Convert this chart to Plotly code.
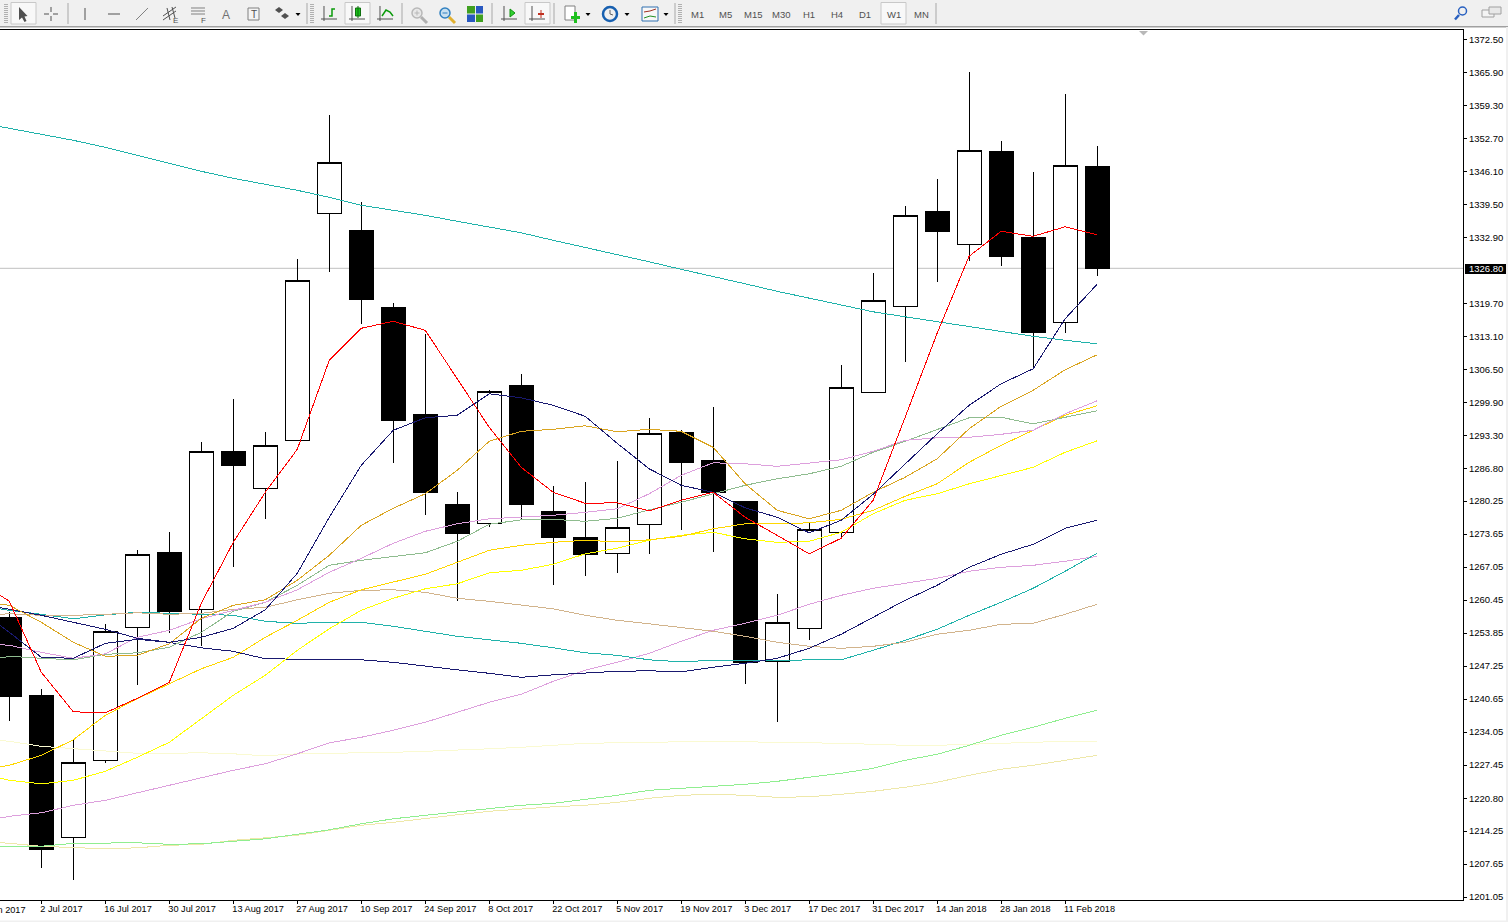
import pandas as pd
import plotly.graph_objects as go

first_candle = "2017-06-25"
open_ = [1257.0,1241.4,1212.9,1228.3,1254.9,1270.0,1258.5,1290.2,1282.7,1292.3,1337.7,1334.4,1319.0,1297.6,1279.6,1275.8,1303.4,1278.2,1273.0,1269.7,1275.5,1294.0,1288.4,1280.2,1248.1,1254.8,1274.0,1302.0,1319.1,1338.2,1331.5,1350.2,1333.0,1315.9,1347.2]
high = [1258.0,1242.6,1232.4,1255.6,1270.4,1274.0,1292.0,1300.6,1294.0,1328.6,1357.4,1340.0,1319.8,1313.6,1282.0,1302.4,1305.7,1283.3,1284.0,1288.2,1296.8,1294.5,1299.0,1280.2,1261.6,1275.8,1307.4,1325.8,1339.2,1344.6,1366.0,1352.2,1346.0,1361.6,1351.2]
low = [1236.2,1206.8,1204.4,1227.8,1243.4,1253.8,1251.2,1267.0,1276.6,1292.2,1326.0,1315.6,1287.8,1277.4,1260.2,1275.0,1276.5,1263.4,1265.2,1265.8,1269.6,1274.4,1270.0,1243.6,1236.0,1252.4,1272.9,1302.0,1308.0,1324.0,1328.2,1327.2,1306.8,1313.9,1325.2]
close = [1241.2,1210.6,1227.9,1254.1,1269.6,1258.2,1290.1,1287.4,1291.4,1324.4,1348.0,1320.6,1296.4,1282.0,1273.8,1302.1,1279.6,1273.0,1269.6,1274.9,1293.7,1288.0,1282.0,1248.0,1255.9,1274.5,1302.9,1320.3,1337.3,1334.2,1350.4,1329.2,1314.0,1347.3,1326.8]

# Moving averages start one week earlier (18 Jun 2017)
ma_pale = [1232.8,1232.2,1231.2,1230.7,1230.2,1229.8,1229.8,1229.9,1229.7,1229.3,1229.7,1229.8,1229.8,1230.0,1230.2,1230.4,1230.7,1231.0,1231.4,1231.8,1231.9,1232.0,1232.1,1232.2,1232.1,1232.0,1232.0,1231.8,1231.6,1231.4,1231.4,1231.6,1231.8,1232.0,1232.2,1232.2]
ma_palegold = [1212.2,1211.8,1211.2,1211.0,1210.7,1210.9,1211.4,1211.6,1212.4,1212.9,1213.4,1214.4,1215.4,1216.0,1216.8,1217.5,1218.2,1218.7,1219.1,1219.4,1220.0,1220.8,1221.4,1221.6,1221.4,1221.0,1221.1,1221.6,1222.2,1223.0,1224.0,1225.4,1226.6,1227.4,1228.4,1229.4]
ma_lightgreen = [1211.2,1211.2,1211.2,1211.8,1211.9,1211.9,1211.6,1211.7,1212.2,1212.7,1213.6,1214.5,1215.7,1216.7,1217.4,1218.1,1218.8,1219.4,1219.8,1220.6,1221.4,1222.4,1222.8,1223.2,1223.6,1224.2,1225.0,1225.8,1226.8,1228.4,1229.6,1231.4,1233.4,1235.0,1236.8,1238.4]
ma_plum_low = [1216.0,1217.2,1217.9,1219.4,1220.4,1221.9,1223.4,1225.0,1226.4,1227.7,1229.7,1231.9,1233.0,1234.4,1236.0,1238.0,1240.0,1241.6,1244.2,1246.4,1248.0,1249.8,1252.2,1254.4,1255.8,1257.4,1259.6,1261.4,1262.8,1263.8,1264.8,1266.2,1267.0,1267.4,1268.2,1269.2]
ma_teal_top = [1356.0,1354.8,1353.6,1352.4,1351.0,1349.4,1347.8,1346.2,1344.8,1343.6,1342.4,1341.0,1339.4,1338.4,1337.4,1336.2,1335.0,1333.9,1332.4,1331.0,1329.5,1328.1,1326.6,1325.2,1323.7,1322.2,1320.8,1319.5,1318.1,1317.1,1316.1,1315.2,1314.2,1313.2,1312.4,1311.7]
ma_teal_low = [1259.4,1258.4,1257.6,1256.7,1257.5,1258.0,1257.8,1257.6,1257.4,1256.2,1255.8,1256.0,1256.0,1255.2,1254.2,1253.2,1252.5,1251.8,1250.9,1249.9,1249.4,1248.5,1248.1,1248.4,1248.4,1248.4,1248.4,1248.5,1250.4,1252.4,1254.6,1257.4,1260.0,1262.8,1266.2,1269.8]
ma_tan = [1257.4,1257.7,1257.4,1257.4,1257.6,1257.9,1257.6,1257.8,1258.6,1259.0,1260.5,1261.8,1262.4,1262.5,1262.0,1260.8,1260.2,1259.5,1258.7,1257.4,1256.4,1255.7,1254.9,1254.2,1253.2,1252.0,1251.2,1250.8,1251.2,1252.0,1253.6,1254.4,1255.6,1255.8,1257.6,1259.6]
ma_navy_low = [1259.8,1258.6,1257.4,1256.0,1254.6,1252.8,1252.0,1250.9,1250.2,1248.7,1248.6,1248.5,1248.5,1248.0,1247.2,1246.5,1245.8,1245.0,1245.5,1245.8,1246.2,1246.3,1246.1,1247.0,1247.8,1248.8,1250.8,1253.6,1257.0,1260.4,1263.4,1267.0,1269.6,1271.6,1274.8,1276.4]
ma_yellow = [1226.0,1224.4,1223.7,1224.4,1226.2,1229.0,1232.0,1236.7,1241.4,1245.4,1250.4,1254.7,1258.4,1260.8,1262.7,1263.7,1265.9,1266.4,1267.6,1269.7,1270.8,1272.4,1273.4,1274.0,1272.7,1272.0,1272.2,1274.0,1277.7,1280.4,1281.7,1283.7,1285.4,1287.0,1290.0,1292.3]
ma_gold = [1226.4,1227.4,1229.4,1232.5,1237.4,1240.7,1243.7,1246.7,1249.0,1253.0,1256.4,1260.0,1262.5,1264.0,1265.6,1268.0,1270.4,1271.4,1272.0,1272.4,1272.1,1272.5,1273.2,1274.7,1275.7,1275.7,1275.9,1276.6,1278.4,1281.2,1283.7,1288.0,1291.4,1294.4,1297.4,1299.3]
ma_seagreen = [1248.0,1249.2,1248.8,1248.5,1249.6,1249.9,1251.0,1254.0,1258.2,1260.0,1263.4,1267.4,1268.4,1269.2,1269.9,1272.2,1275.6,1276.5,1276.6,1276.2,1276.8,1278.5,1280.0,1281.7,1283.4,1284.7,1285.7,1287.2,1290.0,1292.2,1294.6,1296.9,1297.0,1295.7,1297.0,1298.3]
ma_plum_up = [1251.8,1251.4,1250.0,1248.8,1249.7,1253.0,1254.4,1256.7,1258.4,1260.0,1262.5,1266.0,1268.8,1271.8,1274.2,1275.7,1276.7,1277.0,1277.4,1278.0,1278.7,1281.7,1285.4,1287.9,1287.7,1287.2,1287.9,1288.5,1290.2,1292.4,1292.9,1293.0,1293.6,1294.4,1297.7,1300.3]
ma_goldenrod = [1260.2,1259.4,1256.0,1252.0,1249.2,1249.4,1251.7,1256.8,1259.4,1260.5,1264.4,1269.4,1275.4,1278.8,1281.7,1286.4,1292.2,1294.2,1294.6,1295.3,1294.1,1294.6,1294.2,1291.0,1283.7,1278.4,1276.7,1278.4,1282.0,1285.0,1288.7,1294.7,1299.2,1302.4,1306.5,1309.5]
ma_navy_fast = [1258.8,1254.0,1249.0,1248.8,1251.8,1252.6,1252.0,1253.0,1254.8,1258.5,1265.8,1277.0,1287.4,1294.4,1296.9,1297.4,1301.7,1300.9,1299.4,1297.2,1291.8,1286.7,1283.4,1282.0,1278.9,1277.0,1273.9,1276.4,1281.6,1287.7,1293.7,1299.4,1303.7,1306.7,1316.7,1323.6]
ma_red = [1264.4,1260.2,1246.0,1238.1,1237.9,1240.8,1244.0,1259.8,1272.0,1282.0,1290.6,1308.4,1314.8,1316.2,1314.4,1304.8,1295.0,1287.0,1282.0,1279.8,1279.9,1278.3,1280.4,1282.0,1277.0,1273.4,1269.7,1272.8,1280.4,1297.0,1313.8,1329.2,1334.2,1333.2,1335.1,1333.5]

price_ticks = [1372.50,1365.90,1359.30,1352.70,1346.10,1339.50,1332.90,1319.70,1313.10,1306.50,1299.90,1293.30,1286.80,1280.25,1273.65,1267.05,1260.45,1253.85,1247.25,1240.65,1234.05,1227.45,1220.80,1214.25,1207.65,1201.05]
last_price = 1326.80
date_ticks = ["2017-07-02","2017-07-16","2017-07-30","2017-08-13","2017-08-27","2017-09-10","2017-09-24","2017-10-08","2017-10-22","2017-11-05","2017-11-19","2017-12-03","2017-12-17","2017-12-31","2018-01-14","2018-01-28","2018-02-11"]
date_labels = ["2 Jul 2017","16 Jul 2017","30 Jul 2017","13 Aug 2017","27 Aug 2017","10 Sep 2017","24 Sep 2017","8 Oct 2017","22 Oct 2017","5 Nov 2017","19 Nov 2017","3 Dec 2017","17 Dec 2017","31 Dec 2017","14 Jan 2018","28 Jan 2018","11 Feb 2018"]
timeframes = ["M1","M5","M15","M30","H1","H4","D1","W1","MN"]

FONT = "Liberation Sans"
W, H = 1508, 922
PL, PR, PT, PB = 0, 1463, 30, 900

candle_dates = pd.date_range(first_candle, periods=len(open_), freq="7D")
ma_dates = pd.date_range(pd.Timestamp(first_candle) - pd.Timedelta(days=7), periods=len(ma_red), freq="7D")

fig = go.Figure()
fig.add_trace(go.Candlestick(
    x=candle_dates, open=open_, high=high, low=low, close=close, whiskerwidth=0,
    increasing=dict(fillcolor="#ffffff", line=dict(color="#000000", width=1)),
    decreasing=dict(fillcolor="#000000", line=dict(color="#000000", width=1)),
    hoverinfo="skip"))
series = [
    (ma_pale, "#FAFAD2"), (ma_palegold, "#EEE8AA"), (ma_lightgreen, "#90EE90"),
    (ma_plum_low, "#DDA0DD"), (ma_teal_top, "#20B2AA"), (ma_teal_low, "#20B2AA"),
    (ma_tan, "#D2B48C"), (ma_navy_low, "#191970"), (ma_yellow, "#FFFF00"),
    (ma_gold, "#FFD700"), (ma_seagreen, "#8FBC8F"), (ma_plum_up, "#DDA0DD"),
    (ma_goldenrod, "#DAA520"), (ma_navy_fast, "#191970"), (ma_red, "#FF0000"),
]
for vals, col in series:
    fig.add_trace(go.Scatter(x=ma_dates, y=vals, mode="lines", line=dict(color=col, width=1), hoverinfo="skip"))

shapes, notes = [], []
def X(px): return (px - PL) / (PR - PL)
def Y(py): return 1 - (py - PT) / (PB - PT)
def rect(x0, y0, x1, y1, fill, line=None):
    shapes.append(dict(type="rect", xref="paper", yref="paper", x0=X(x0), x1=X(x1), y0=Y(y0), y1=Y(y1),
                       fillcolor=fill, line=dict(color=line or fill, width=1 if line else 0), layer="above"))
def circle(cx, cy, r, fill, line, width=1):
    shapes.append(dict(type="circle", xref="paper", yref="paper", x0=X(cx - r), x1=X(cx + r), y0=Y(cy + r), y1=Y(cy - r),
                       fillcolor=fill, line=dict(color=line, width=width), layer="above"))
def path(pts, color=None, fill=None, width=1, closed=False):
    d = "M " + " L ".join(f"{X(a):.5f} {Y(b):.5f}" for a, b in pts) + (" Z" if closed else "")
    shapes.append(dict(type="path", xref="paper", yref="paper", path=d, fillcolor=fill or "rgba(0,0,0,0)",
                       line=dict(color=color or "rgba(0,0,0,0)", width=width), layer="above"))
def text(px, py, s, size=9.5, color="#000000", anchor="center", family=FONT):
    notes.append(dict(xref="paper", yref="paper", x=X(px), y=Y(py), text=s, showarrow=False, xanchor=anchor,
                      yanchor="middle", font=dict(family=family, size=size, color=color), borderpad=0, borderwidth=0))

# window furniture
rect(0, 0, W, 26, "#f0f0f0")
rect(0, 26, W, 27.5, "#a0a0a0")
rect(0, 920.5, W, 922, "#f0f0f0")
rect(1506, 27, W, 922, "#f0f0f0")
for gx in (6, 312, 680):
    for gy in range(4, 23, 2):
        rect(gx - 2, gy, gx + 2, gy + 1, "#b0b0b0")
for sx in (68, 307, 402, 492, 554, 675, 936):
    rect(sx - 0.5, 3, sx + 0.5, 24, "#a8a8a8")
for bx0, bx1 in ((11, 36), (345, 370), (525, 550), (881, 906)):
    rect(bx0, 2.5, bx1, 24, "#f8f8f8", "#c8c8c8")
G = "#505050"
# drawing tools
path([(19, 7), (19, 20), (22, 17.5), (24.5, 22), (26.5, 21), (24.5, 16.5), (27.5, 16)], None, G, closed=True)
path([(44, 14), (49, 14)], G); path([(53, 14), (58, 14)], G); path([(51, 7), (51, 12)], G); path([(51, 16), (51, 21)], G)
path([(85, 8), (85, 20)], G); path([(108, 14), (120, 14)], G); path([(136, 20), (148, 8)], "#808080")
path([(163, 16), (176, 7)], G); path([(163, 20), (176, 11)], G); path([(167, 8), (170, 20)], G); path([(172, 7), (175, 18)], G)
text(175, 20.5, "E", 8, G)
for yy in (8, 11, 14):
    path([(191, yy), (205, yy)], "#808080")
text(203, 20.5, "F", 8, G)
text(225.5, 14.5, "A", 12, "#707070")
rect(248, 8, 259, 20, "#f4f4f4", "#808080"); text(253.5, 14.5, "T", 10, G)
path([(275, 10), (279, 7), (283, 10), (279, 13)], None, G, closed=True)
path([(281, 16), (285, 13), (289, 16), (285, 19)], None, G, closed=True)
for dx in (298, 588, 627, 666):
    path([(dx - 2.5, 13), (dx + 2.5, 13), (dx, 16)], None, "#000000", closed=True)
# chart type tools
for cx in (330, 358, 386, 510, 538):
    path([(cx - 6, 6), (cx - 6, 21)], G); path([(cx - 9, 19), (cx + 7, 19)], G)
path([(329, 16), (332, 16), (332, 9), (335, 9)], "#0a9a0a", width=1.5)
rect(355.5, 8, 360.5, 16, "#18c018", "#107010"); path([(358, 6), (358, 18)], "#107010")
path([(382, 16), (386, 10), (390, 12), (393, 16)], "#0a9a0a", width=1.5)
# zoom / tile
path([(421, 17), (427, 23)], "#b0b0b0", width=3); circle(417, 13, 5, "#e8e8e8", "#b8b8b8", 1.5); path([(414.5, 13), (419.5, 13)], "#b8b8b8"); path([(417, 10.5), (417, 15.5)], "#b8b8b8")
path([(449, 17), (455, 23)], "#e0b030", width=3); circle(445, 13, 5, "#c8e0f0", "#3080c0", 1.5); path([(442.5, 13), (447.5, 13)], "#3080c0")
rect(467, 6, 475, 13.5, "#40a020"); rect(476, 6, 483, 13.5, "#2858c0")
rect(467, 14.5, 475, 22, "#2858c0"); rect(476, 14.5, 483, 22, "#40a020")
path([(510, 9), (510, 17), (515, 13)], "#109010", "#30d030", closed=True)
path([(541, 10), (541, 18)], "#c03020"); path([(538, 14), (544, 14)], "#c03020", width=2)
# indicators, periods, templates
rect(565, 6, 575, 20, "#ffffff", "#808080"); rect(571, 16, 580, 19, "#20c020"); rect(574, 12, 577, 23, "#20c020")
circle(610, 14, 7, "#f0f0f0", "#1860b0", 2.5); path([(610, 10), (610, 14), (613, 15)], "#606060")
rect(642, 7, 658, 21, "#f8f8f8", "#3070b0"); path([(644, 12), (650, 11), (656, 9)], "#a03020"); path([(644, 18), (650, 16), (656, 17)], "#209020")
for i, tf in enumerate(timeframes):
    tx = [697, 725, 753, 781, 809, 837, 865, 894, 921][i]
    text(tx, 14.5, tf, 9.5, "#505050")
# right-hand toolbar icons
path([(1459, 15), (1455, 19.5)], "#2860c0", width=2.5)
circle(1462.5, 11, 4, "#f0f0f0", "#2860c0", 1.5)
rect(1482, 10, 1494, 17, "#f4f4f4", "#a0a0a0"); rect(1489, 7, 1501, 14, "#e8e8e8", "#a0a0a0")

# chart shift marker, price line and price tag
path([(1139, 31), (1148, 31), (1143.5, 35.5)], None, "#b8b8b8", closed=True)
shapes.append(dict(type="line", xref="paper", yref="y", x0=0, x1=1, y0=last_price, y1=last_price,
                   line=dict(color="#c0c0c0", width=1), layer="below"))
rect(1465, 264, 1506, 274, "#000000")
text(1485.5, 268.7, f"{last_price:.2f}", 9.5, "#ffffff")
# partly hidden first date label
text(-25, 910, "18 Jun 2017", 9.2, "#000000", "left")

fig.update_layout(
    width=W, height=H, showlegend=False, paper_bgcolor="#ffffff", plot_bgcolor="#ffffff",
    margin=dict(l=PL, r=W - PR, t=PT, b=H - PB, autoexpand=False), boxgap=0.25, boxgroupgap=0,
    font=dict(family=FONT, size=9.5, color="#000000"), shapes=shapes, annotations=notes,
    xaxis=dict(type="date", range=["2017-06-22 23:00", "2018-05-09 01:30"], rangeslider=dict(visible=False),
               showgrid=False, zeroline=False, showline=True, linecolor="#000000", linewidth=1, mirror=True,
               ticks="outside", ticklen=3, tickcolor="#000000", tickvals=date_ticks, ticktext=date_labels,
               ticklabelposition="outside right", ticklabelshift=-2, tickangle=0, tickfont=dict(family=FONT, size=9.2)),
    yaxis=dict(side="right", range=[1200.46, 1374.46], showgrid=False, zeroline=False, showline=True,
               linecolor="#000000", linewidth=1, ticks="outside", ticklen=3, tickcolor="#000000",
               tickvals=price_ticks, ticktext=[f"{p:.2f}" for p in price_ticks],
               tickfont=dict(family=FONT, size=9.5)),
)
crisp = ("document.body.style.margin='0';document.body.style.overflow='hidden';"
         "document.querySelectorAll('.scatterlayer path, .boxlayer path').forEach(function(e){e.style.shapeRendering='crispEdges';});")
fig.write_html("out.html", post_script=crisp, config=dict(displayModeBar=False))
